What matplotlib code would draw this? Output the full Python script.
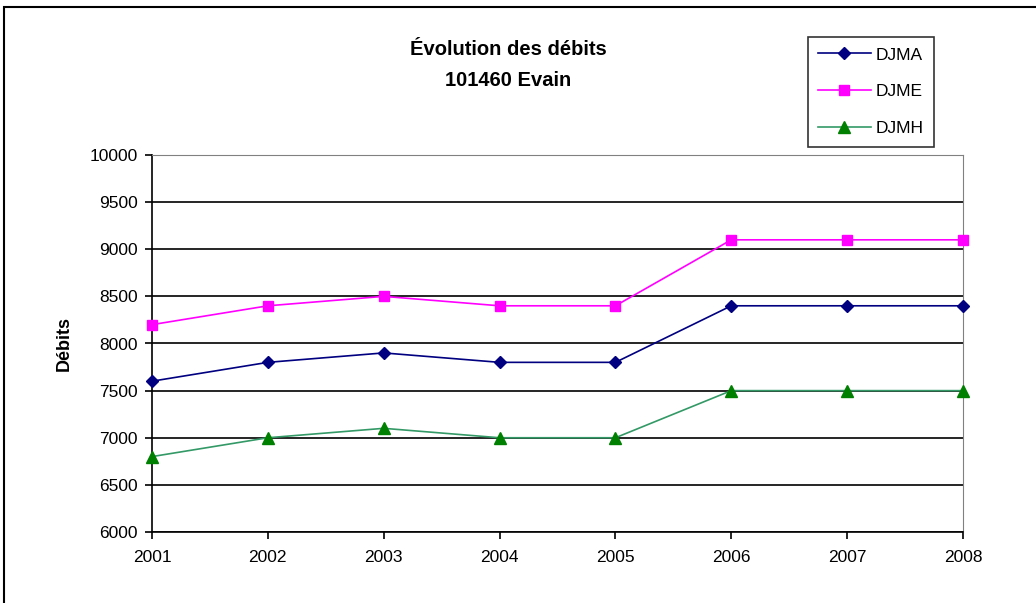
import numpy as np
import matplotlib.pyplot as plt
from matplotlib.patches import Rectangle

plt.rcParams['font.family'] = ['Liberation Sans', 'DejaVu Sans']

annees = [2001, 2002, 2003, 2004, 2005, 2006, 2007, 2008]
djma = [7600, 7800, 7900, 7800, 7800, 8400, 8400, 8400]
djme = [8200, 8400, 8500, 8400, 8400, 9100, 9100, 9100]
djmh = [6800, 7000, 7100, 7000, 7000, 7500, 7500, 7500]

fig = plt.figure(figsize=(10.36, 6.03), dpi=100)
# cadre du graphique (coupé à droite et en bas)
fig.patches.append(Rectangle((4/1036, -0.1), 1.2, 1 - 7/603 + 0.1, transform=fig.transFigure,
                             fill=False, edgecolor='black', linewidth=1.5))

ax = fig.add_axes([152/1036, 71/603, 811/1036, 377/603])
ax.plot(annees, djma, color='#000080', marker='D', markersize=6, linewidth=1.2, label='DJMA', clip_on=False, zorder=3)
ax.plot(annees, djme, color='#FF00FF', marker='s', markersize=7, linewidth=1.2, label='DJME', clip_on=False, zorder=3)
ax.plot(annees, djmh, color='#339966', marker='^', markersize=8, markerfacecolor='#008000',
        markeredgecolor='#008000', linewidth=1.2, label='DJMH', clip_on=False, zorder=3)

ax.set_xlim(2001, 2008)
ax.set_ylim(6000, 10000)
ax.set_xticks(annees)
ax.set_yticks(np.arange(6000, 10001, 500))
ax.yaxis.grid(True, color='black', linewidth=1.2)
ax.set_axisbelow(True)
for s in ['top', 'right']:
    ax.spines[s].set_color('#808080')
ax.spines['left'].set_linewidth(1.2)
ax.spines['bottom'].set_linewidth(1.2)
ax.tick_params(direction='out', length=5, labelsize=12.5, width=1.2, pad=5)
ax.tick_params(axis='x', pad=8)
ax.set_ylabel('Débits', fontsize=13, fontweight='bold', labelpad=12)

fig.text(508/1036, 1 - 65/603, 'Évolution des débits\n101460 Evain', ha='center', va='center',
         fontsize=14.5, fontweight='bold', linespacing=1.85)

leg = fig.legend(loc='upper left', bbox_to_anchor=(808/1036, 1 - 37/603), fontsize=12.5,
                 frameon=True, fancybox=False, edgecolor='black', handlelength=3.0,
                 labelspacing=1.25, borderpad=0.6, handletextpad=0.3, borderaxespad=0)
leg.get_frame().set_linewidth(1.2)

plt.savefig('out.png', dpi=100)
